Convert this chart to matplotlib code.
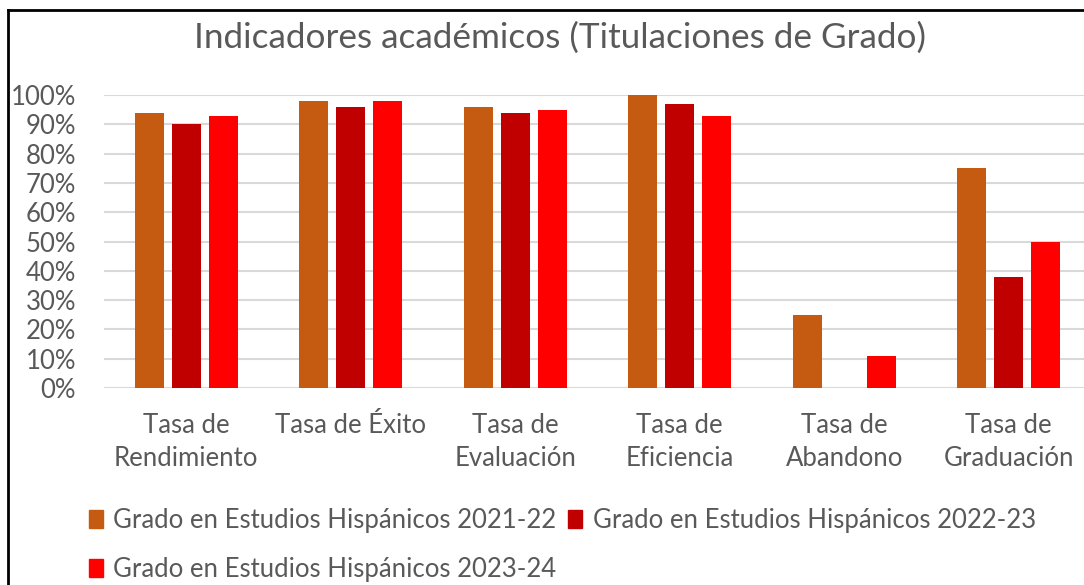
import matplotlib
matplotlib.use("Agg")
import matplotlib.pyplot as plt
import numpy as np
from matplotlib.lines import Line2D

categories = ["Tasa de\nRendimiento", "Tasa de Éxito", "Tasa de\nEvaluación",
              "Tasa de\nEficiencia", "Tasa de\nAbandono", "Tasa de\nGraduación"]
series_names = ["Grado en Estudios Hispánicos 2021-22",
                "Grado en Estudios Hispánicos 2022-23",
                "Grado en Estudios Hispánicos 2023-24"]
v2122 = [0.94, 0.98, 0.96, 1.00, 0.25, 0.75]
v2223 = [0.90, 0.96, 0.94, 0.97, 0.00, 0.38]
v2324 = [0.93, 0.98, 0.95, 0.93, 0.11, 0.50]
colors = ["#C55A11", "#C00000", "#FF0000"]
yticks = [0, 0.1, 0.2, 0.3, 0.4, 0.5, 0.6, 0.7, 0.8, 0.9, 1.0]
ytick_labels = ["0%", "10%", "20%", "30%", "40%", "50%", "60%", "70%", "80%", "90%", "100%"]

FONT = "Lato"
TXT = "#595959"
FS = 18.5

fig = plt.figure(figsize=(10.84, 5.85), dpi=100)
ax = fig.add_axes([104/1084, 1-388/585, (1091-104)/1084, (388-95)/585])

x = np.arange(len(categories))
w = 0.177
step = 0.225
for i, (vals, name) in enumerate(zip([v2122, v2223, v2324], series_names)):
    ax.bar(x + (i-1)*step, vals, width=w, color=colors[i], label=name, zorder=3)

ax.set_xlim(-0.5, len(categories)-0.5)
ax.set_ylim(0, 1.0)
ax.set_yticks(yticks)
ax.set_yticklabels(ytick_labels, fontsize=FS, color=TXT, family=FONT)
ax.set_xticks(x)
ax.set_xticklabels(categories, fontsize=FS, color=TXT, family=FONT, linespacing=1.42, va="top")
ax.tick_params(axis="y", length=0, pad=20)
ax.tick_params(axis="x", length=0, pad=18)
ax.grid(axis="y", color="#D9D9D9", linewidth=1.5, zorder=0)
for s in ax.spines.values():
    s.set_visible(False)
ax.set_axisbelow(True)

fig.text(560/1084, 1-38/585, "Indicadores académicos (Titulaciones de Grado)",
         ha="center", va="center", fontsize=25.3, color=TXT, family=FONT)

handles = [plt.Rectangle((0, 0), 1, 1, color=c) for c in colors]
order = [0, 2, 1]
leg = fig.legend([handles[i] for i in order], [series_names[i] for i in order],
                 ncol=2, loc="upper left",
                 bbox_to_anchor=(89/1084, 1-508/585), frameon=False,
                 prop={"family": FONT, "size": FS}, handlelength=0.55, handleheight=0.7,
                 handletextpad=0.4, columnspacing=0.45, labelspacing=0.95, borderaxespad=0,
                 borderpad=0)
for t in leg.get_texts():
    t.set_color(TXT)

fig.add_artist(Line2D([8/1084, 8/1084], [0, 1-10/585], color="black", linewidth=2, transform=fig.transFigure))
fig.add_artist(Line2D([8/1084, 1], [1-10/585, 1-10/585], color="black", linewidth=2, transform=fig.transFigure))

fig.savefig("out.png", dpi=100)
